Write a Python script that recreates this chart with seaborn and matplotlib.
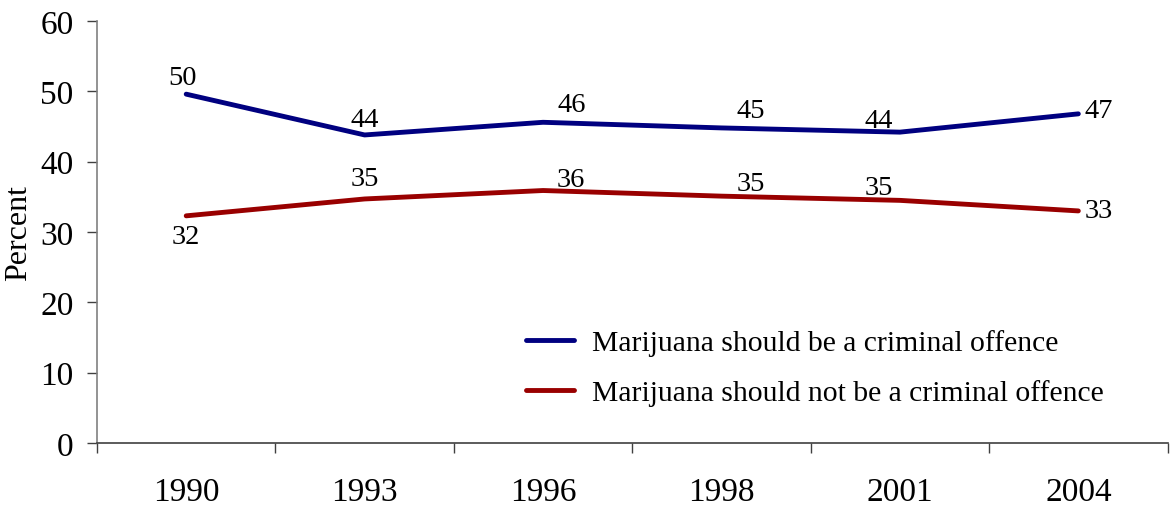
import numpy as np
import pandas as pd
import matplotlib
matplotlib.use('Agg')
import matplotlib.pyplot as plt
import matplotlib.ticker as mticker
import seaborn as sns

years = ['1990', '1993', '1996', '1998', '2001', '2004']
series_names = ['Marijuana should be a criminal offence',
                'Marijuana should not be a criminal offence']
criminal = [49.6, 43.8, 45.6, 44.8, 44.2, 46.8]
not_criminal = [32.3, 34.7, 35.9, 35.1, 34.5, 33.0]
criminal_labels = [50, 44, 46, 45, 44, 47]
not_criminal_labels = [32, 35, 36, 35, 35, 33]

# label offsets in pixels (dx, dy) relative to each point
blue_offsets = [(-4, 17), (0, 15), (29, 18), (29, 17), (-21, 12), (20, 3)]
red_offsets = [(0, -21), (0, 20), (28, 11), (29, 13), (-21, 13), (20, 0)]

df = pd.DataFrame({
    'Year': years * 2,
    'Percent': criminal + not_criminal,
    'Series': [series_names[0]] * len(years) + [series_names[1]] * len(years),
})

sns.set_style('white')
plt.rcParams['font.family'] = ['Liberation Serif', 'DejaVu Serif']
plt.rcParams['text.color'] = 'black'
plt.rcParams['xtick.color'] = 'black'
plt.rcParams['ytick.color'] = 'black'
plt.rcParams['axes.labelcolor'] = 'black'

colors = {series_names[0]: '#000080', series_names[1]: '#990000'}

fig = plt.figure(figsize=(11.7, 5.06), dpi=100)
ax = fig.add_axes([0.0829, 0.1225, 0.915, 0.834])

sns.lineplot(data=df, x='Year', y='Percent', hue='Series', palette=colors,
             linewidth=3.5, sort=False, ax=ax)

px = 72 / 100
for vals, labs, offs in [(criminal, criminal_labels, blue_offsets),
                         (not_criminal, not_criminal_labels, red_offsets)]:
    for i, (v, lab) in enumerate(zip(vals, labs)):
        dx, dy = offs[i]
        ax.annotate(str(lab), (i, v), xytext=(dx * px, dy * px),
                    textcoords='offset points', ha='center', va='center',
                    fontsize=20.5, color='black')

ax.set_xlim(-0.5, len(years) - 0.5)
ax.set_ylim(0, 60)
ax.yaxis.set_major_locator(mticker.MultipleLocator(10))
ax.xaxis.set_minor_locator(mticker.FixedLocator(np.arange(-0.5, len(years), 1.0)))
ax.tick_params(axis='x', which='major', length=0, pad=24, labelsize=24)
ax.tick_params(axis='x', which='minor', length=7, width=1, color='#404040', direction='out')
ax.tick_params(axis='y', length=7, width=1, color='#404040', direction='out',
               pad=10, labelsize=24, labelcolor='black')
ax.tick_params(bottom=True, left=True, which='both')

for s in ['top', 'right']:
    ax.spines[s].set_visible(False)
ax.spines['left'].set_color('#808080')
ax.spines['bottom'].set_color('#404040')
ax.spines['left'].set_linewidth(1.2)
ax.spines['bottom'].set_linewidth(1.2)

ax.set_xlabel('')
ax.set_ylabel('Percent', fontsize=23)
ax.yaxis.set_label_coords(-0.06, 0.5)

leg = ax.legend(loc='center left', bbox_to_anchor=(0.376, 0.178), frameon=False,
                fontsize=21.3, handlelength=1.62, handletextpad=0.62,
                labelspacing=0.78)
for h in leg.get_lines():
    h.set_linewidth(3.5)

fig.savefig('out.png', dpi=100)
